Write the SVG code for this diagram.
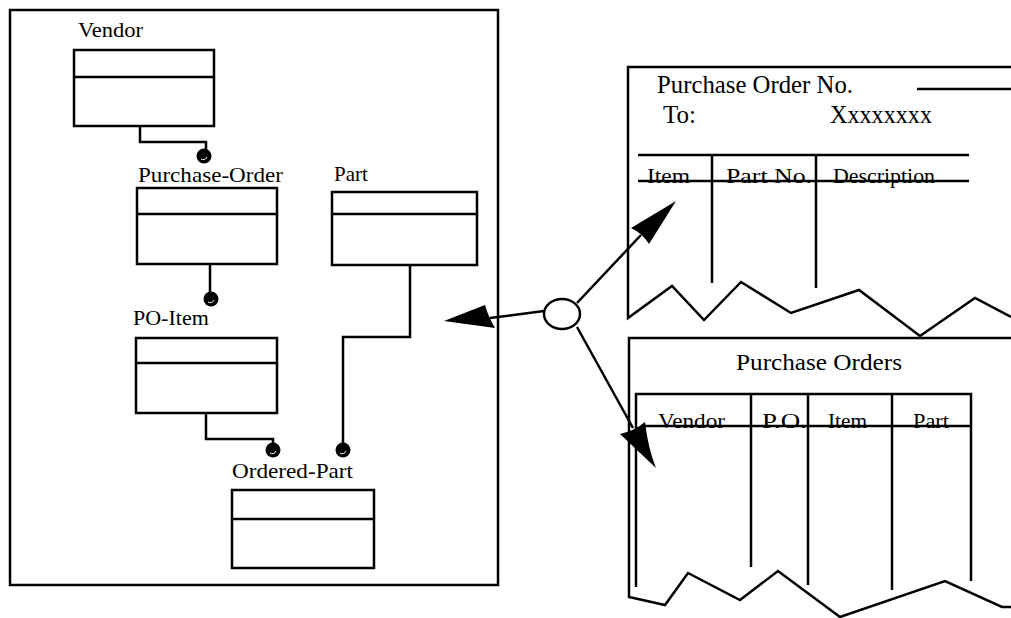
<svg xmlns="http://www.w3.org/2000/svg" width="1011" height="618" viewBox="0 0 1011 618">
<style>
.ln{fill:none;stroke:#000;stroke-width:2.5}
.t{font-family:'Liberation Serif','DejaVu Serif',serif;fill:#000}
.dot{fill:#000}
.hl{fill:none;stroke:#fff;stroke-width:1}
</style>
<defs>
<g id="dotg"><circle class="dot" r="7.5"/><path class="hl" d="M-3,3 A4,4 0 0 0 3,1"/></g>
</defs>
<rect width="1011" height="618" fill="#fff"/>
<rect class="ln" x="10" y="10" width="488" height="575"/>

<g id="vendor">
<text class="t" font-family="Liberation Serif" x="78" y="37" font-size="21" textLength="65" lengthAdjust="spacingAndGlyphs">Vendor</text>
<rect class="ln" x="74" y="50" width="140" height="76"/>
<line class="ln" x1="74" y1="77" x2="214" y2="77"/>
</g>
<g id="purchase-order">
<text class="t" font-family="Liberation Serif" x="138" y="182" font-size="22" textLength="145" lengthAdjust="spacingAndGlyphs">Purchase-Order</text>
<rect class="ln" x="137" y="188" width="140" height="76"/>
<line class="ln" x1="137" y1="214" x2="277" y2="214"/>
</g>
<g id="part">
<text class="t" font-family="Liberation Serif" x="334" y="181" font-size="21">Part</text>
<rect class="ln" x="332" y="192" width="145" height="73"/>
<line class="ln" x1="332" y1="214" x2="477" y2="214"/>
</g>
<g id="po-item">
<text class="t" font-family="Liberation Serif" x="133" y="325" font-size="22">PO-Item</text>
<rect class="ln" x="136" y="338" width="141" height="75"/>
<line class="ln" x1="136" y1="363" x2="277" y2="363"/>
</g>
<g id="ordered-part">
<text class="t" font-family="Liberation Serif" x="232" y="478" font-size="22" textLength="121" lengthAdjust="spacingAndGlyphs">Ordered-Part</text>
<rect class="ln" x="232" y="490" width="142" height="78"/>
<line class="ln" x1="232" y1="519" x2="374" y2="519"/>
</g>

<g id="po-form">
<path class="ln" d="M1011,67 H628 V318 L672,286 L704,320 L741,282 L791,313 L859,290 L920,336 L975,298 L1011,317"/>
<text class="t" font-family="Liberation Serif" x="657" y="93" font-size="25" textLength="196" lengthAdjust="spacingAndGlyphs">Purchase Order No.</text>
<line class="ln" x1="917" y1="89" x2="1011" y2="89"/>
<text class="t" font-family="Liberation Serif" x="663" y="123" font-size="25">To:</text>
<text class="t" font-family="Liberation Serif" x="830" y="123" font-size="25" textLength="102" lengthAdjust="spacingAndGlyphs">Xxxxxxxx</text>
<line class="ln" x1="638" y1="155" x2="969" y2="155"/>
<text class="t" font-family="Liberation Serif" x="647" y="183" font-size="22" textLength="43" lengthAdjust="spacingAndGlyphs">Item</text>
<text class="t" font-family="Liberation Serif" x="726" y="183" font-size="22" textLength="86" lengthAdjust="spacingAndGlyphs">Part No.</text>
<text class="t" font-family="Liberation Serif" x="833" y="183" font-size="22" textLength="102" lengthAdjust="spacingAndGlyphs">Description</text>
<line class="ln" x1="638" y1="181" x2="969" y2="181"/>
<line class="ln" x1="712" y1="155" x2="712" y2="283"/>
<line class="ln" x1="816" y1="155" x2="816" y2="288"/>
</g>

<g id="po-report">
<path class="ln" d="M1011,338 H629 V597 L665,605 L688,573 L740,600 L778,571 L840,617 L945,581 L1002,607 L1011,607"/>
<text class="t" font-family="Liberation Serif" x="736" y="370" font-size="23" textLength="166" lengthAdjust="spacingAndGlyphs">Purchase Orders</text>
<path class="ln" d="M636,587 V394 H971 V581"/>
<text class="t" font-family="Liberation Serif" x="658" y="428" font-size="22" textLength="67" lengthAdjust="spacingAndGlyphs">Vendor</text>
<text class="t" font-family="Liberation Serif" x="762" y="428" font-size="22" textLength="45" lengthAdjust="spacingAndGlyphs">P.O.</text>
<text class="t" font-family="Liberation Serif" x="828" y="428" font-size="22" textLength="39" lengthAdjust="spacingAndGlyphs">Item</text>
<text class="t" font-family="Liberation Serif" x="913" y="428" font-size="22" textLength="36" lengthAdjust="spacingAndGlyphs">Part</text>
<line class="ln" x1="645" y1="426" x2="971" y2="426"/>
<line class="ln" x1="751" y1="394" x2="751" y2="567"/>
<line class="ln" x1="808" y1="394" x2="808" y2="585"/>
<line class="ln" x1="892" y1="394" x2="892" y2="590"/>
</g>

<g id="view-node">
<ellipse class="ln" cx="562" cy="314" rx="18" ry="15"/>
</g>

<g id="connectors">
<polyline class="ln" points="140,126 140,142 206,142 206,149"/>
<use href="#dotg" x="204" y="156"/>
<polyline class="ln" points="210,264 210,292"/>
<use href="#dotg" x="211" y="299"/>
<polyline class="ln" points="206,413 206,439 273,439 273,443"/>
<use href="#dotg" x="273" y="450"/>
<polyline class="ln" points="410,265 410,337 343,337 343,443"/>
<use href="#dotg" x="343" y="450"/>

<line class="ln" x1="544" y1="311" x2="490" y2="318"/>
<path d="M444,321 L485,305 Q488,316 495,328 Z" fill="#000"/>
<line class="ln" x1="577" y1="303" x2="641" y2="235"/>
<path d="M676,201 L631,228 Q642,233 649,244 Z" fill="#000"/>
<line class="ln" x1="577" y1="327" x2="633" y2="428"/>
<path d="M656,468 L620,434 Q634,431 645,422 Q648,448 656,468 Z" fill="#000"/>
</g>
</svg>
